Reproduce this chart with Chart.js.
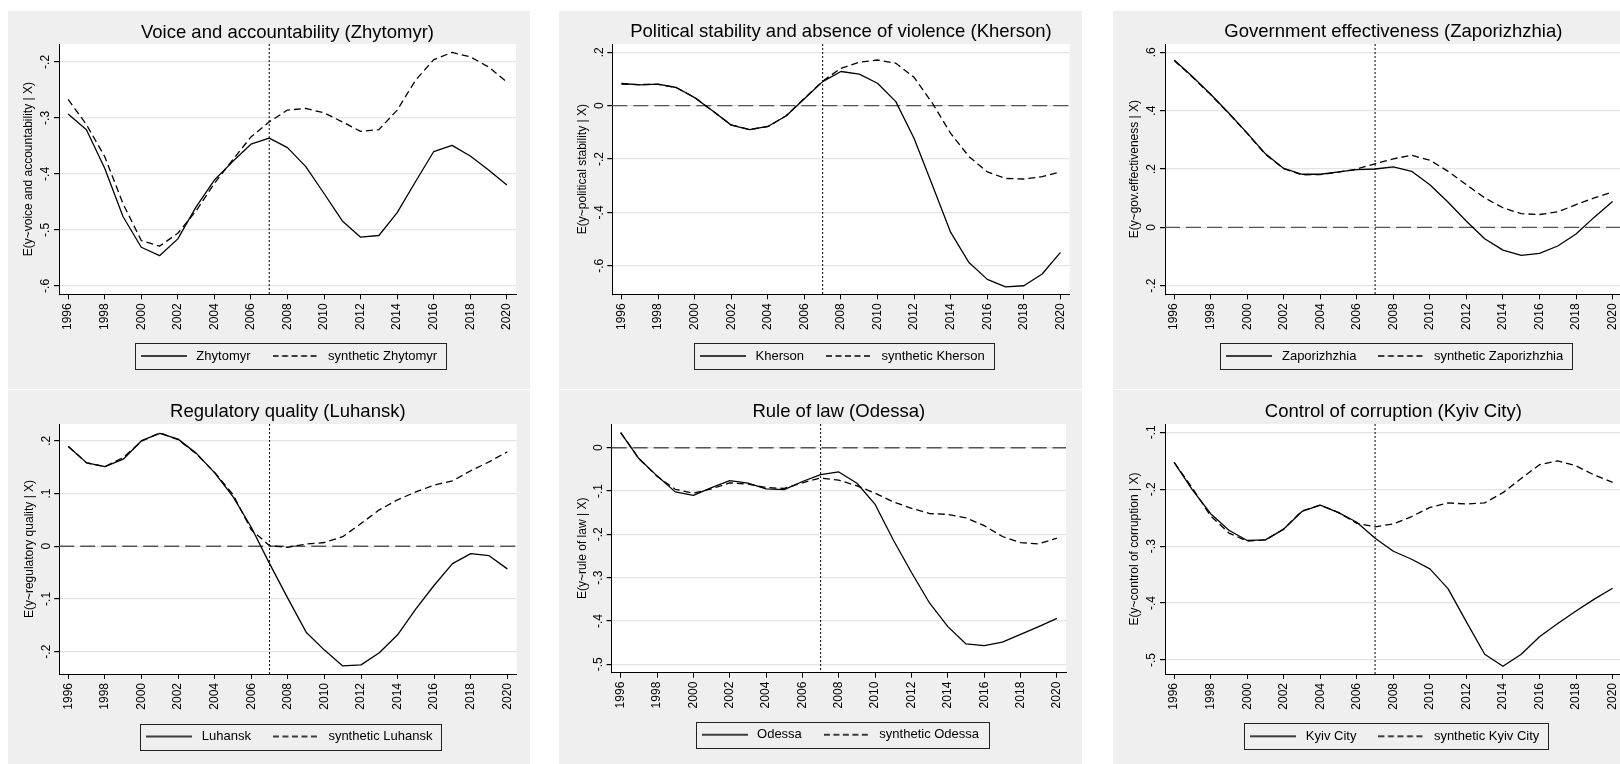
<!DOCTYPE html>
<html>
<head>
<meta charset="utf-8">
<script src="https://cdn.jsdelivr.net/npm/chart.js@4.4.1/dist/chart.umd.min.js"></script>
<style>
  html, body { margin: 0; padding: 0; background: #fff; width: 1620px; height: 764px; overflow: hidden; position: relative; }
  canvas.panel { position: absolute; background: #efefef; }
</style>
</head>
<body>
<canvas class="panel" id="c1" width="522" height="378" style="left:8px;top:11px"></canvas>
<canvas class="panel" id="c2" width="523" height="378" style="left:559px;top:11px"></canvas>
<canvas class="panel" id="c3" width="523" height="378" style="left:1113px;top:11px"></canvas>
<canvas class="panel" id="c4" width="522" height="378" style="left:8px;top:390px"></canvas>
<canvas class="panel" id="c5" width="523" height="378" style="left:559px;top:390px"></canvas>
<canvas class="panel" id="c6" width="523" height="378" style="left:1113px;top:390px"></canvas>
<script>
const years = [1996, 1997, 1998, 1999, 2000, 2001, 2002, 2003, 2004, 2005, 2006, 2007, 2008,
  2009, 2010, 2011, 2012, 2013, 2014, 2015, 2016, 2017, 2018, 2019, 2020];
const yearTicks = [1996, 1998, 2000, 2002, 2004, 2006, 2008, 2010, 2012, 2014, 2016, 2018, 2020];
const treatmentYear = 2007;
const refValue = 0;

// voice and accountability
const zhytomyr = [-0.293, -0.321, -0.390, -0.476, -0.531, -0.546, -0.516, -0.459, -0.411, -0.378, -0.347, -0.336, -0.353,
  -0.387, -0.435, -0.484, -0.513, -0.510, -0.469, -0.414, -0.360, -0.349, -0.368, -0.393, -0.420];
const synthZhytomyr = [-0.267, -0.312, -0.369, -0.453, -0.519, -0.529, -0.506, -0.466, -0.417, -0.375, -0.334, -0.307, -0.286,
  -0.283, -0.291, -0.307, -0.324, -0.321, -0.286, -0.233, -0.196, -0.183, -0.191, -0.209, -0.236];
const voiceTicks = [-0.6, -0.5, -0.4, -0.3, -0.2];

// political stability
const kherson = [0.083, 0.078, 0.081, 0.068, 0.030, -0.020, -0.073, -0.090, -0.078, -0.039, 0.026, 0.090, 0.128,
  0.118, 0.084, 0.015, -0.123, -0.298, -0.475, -0.588, -0.651, -0.679, -0.675, -0.631, -0.550];
const synthKherson = [0.081, 0.079, 0.080, 0.067, 0.031, -0.021, -0.072, -0.089, -0.079, -0.038, 0.027, 0.092, 0.140,
  0.163, 0.171, 0.159, 0.106, 0.009, -0.104, -0.191, -0.248, -0.273, -0.275, -0.266, -0.248];
const stabilityTicks = [-0.6, -0.4, -0.2, 0, 0.2];

// government effectiveness
const zaporizhzhia = [0.574, 0.517, 0.456, 0.391, 0.323, 0.252, 0.202, 0.182, 0.182, 0.190, 0.198, 0.200, 0.207,
  0.192, 0.146, 0.086, 0.021, -0.039, -0.078, -0.096, -0.089, -0.064, -0.023, 0.035, 0.089];
const synthZaporizhzhia = [0.572, 0.515, 0.455, 0.390, 0.322, 0.250, 0.201, 0.180, 0.181, 0.189, 0.200, 0.218, 0.235,
  0.247, 0.230, 0.192, 0.146, 0.101, 0.067, 0.047, 0.044, 0.053, 0.078, 0.101, 0.121];
const effectTicks = [-0.2, 0, 0.2, 0.4, 0.6];

// regulatory quality
const luhansk = [0.189, 0.158, 0.151, 0.165, 0.200, 0.214, 0.203, 0.176, 0.139, 0.094, 0.036, -0.033, -0.099,
  -0.163, -0.197, -0.227, -0.225, -0.202, -0.168, -0.119, -0.074, -0.033, -0.014, -0.018, -0.043];
const synthLuhansk = [0.189, 0.158, 0.151, 0.168, 0.199, 0.215, 0.202, 0.175, 0.140, 0.098, 0.031, 0.001, -0.002,
  0.004, 0.007, 0.018, 0.043, 0.069, 0.088, 0.103, 0.116, 0.124, 0.143, 0.160, 0.179];
const regulatoryTicks = [-0.2, -0.1, 0, 0.1, 0.2];

// rule of law
const odessa = [0.035, -0.025, -0.065, -0.102, -0.110, -0.092, -0.076, -0.082, -0.095, -0.097, -0.078, -0.062, -0.056,
  -0.082, -0.131, -0.213, -0.288, -0.359, -0.413, -0.453, -0.457, -0.449, -0.431, -0.413, -0.394];
const synthOdessa = [0.035, -0.025, -0.066, -0.096, -0.105, -0.095, -0.081, -0.084, -0.092, -0.094, -0.081, -0.070, -0.075,
  -0.088, -0.105, -0.125, -0.140, -0.152, -0.154, -0.162, -0.180, -0.205, -0.219, -0.222, -0.209];
const lawTicks = [-0.5, -0.4, -0.3, -0.2, -0.1, 0];

// control of corruption
const kyivCity = [-0.153, -0.201, -0.243, -0.272, -0.290, -0.289, -0.270, -0.239, -0.228, -0.241, -0.258, -0.286, -0.309,
  -0.323, -0.340, -0.375, -0.433, -0.490, -0.511, -0.490, -0.459, -0.436, -0.414, -0.393, -0.374];
const synthKyivCity = [-0.153, -0.198, -0.247, -0.277, -0.291, -0.289, -0.270, -0.238, -0.228, -0.241, -0.260, -0.266, -0.261,
  -0.248, -0.232, -0.224, -0.226, -0.224, -0.206, -0.181, -0.157, -0.150, -0.159, -0.175, -0.188];
const corruptionTicks = [-0.5, -0.4, -0.3, -0.2, -0.1];

Chart.defaults.font.family = '"Liberation Sans", Arial, sans-serif';
Chart.defaults.color = "#000";

const LEG_PAD = 19;
const SYNTH_DASH = [7, 4];

// stata style: .2, -.4, 0
function stataNum(v) {
  const s = (Math.round(v * 10) / 10).toFixed(1);
  if (s === "0.0" || s === "-0.0") return "0";
  return s.replace(/^(-?)0\./, "$1.");
}

// little line picture used as legend key (pointStyle line ignores dashes)
function lineKey(dash) {
  const c = document.createElement("canvas");
  c.width = 46;
  c.height = 4;
  const g = c.getContext("2d");
  g.strokeStyle = "#000";
  g.lineWidth = 1.3;
  g.setLineDash(dash);
  g.beginPath();
  g.moveTo(0, 2);
  g.lineTo(46, 2);
  g.stroke();
  return c;
}
const solidKey = lineKey([]);
const dashKey = lineKey([6, 3.5]);

const panelDecor = {
  id: "panelDecor",
  beforeDraw(chart) {
    const { ctx, chartArea: a } = chart;
    ctx.save();
    ctx.fillStyle = "#fff";
    ctx.fillRect(a.left, a.top, a.width, a.height);
    ctx.restore();
  },
  beforeDatasetsDraw(chart) {
    const { ctx, chartArea: a } = chart;
    const y = chart.scales.y;
    if (refValue < y.min || refValue > y.max) return;
    const py = y.getPixelForValue(refValue);
    ctx.save();
    ctx.strokeStyle = "#555";
    ctx.lineWidth = 1.4;
    ctx.setLineDash([15, 6]);
    ctx.beginPath();
    ctx.moveTo(a.left, py);
    ctx.lineTo(a.right, py);
    ctx.stroke();
    ctx.restore();
  },
  afterDatasetsDraw(chart) {
    const { ctx, chartArea: a } = chart;
    const px = chart.scales.x.getPixelForValue(treatmentYear);
    ctx.save();
    ctx.strokeStyle = "#000";
    ctx.lineWidth = 1;
    ctx.setLineDash([2, 2]);
    ctx.beginPath();
    ctx.moveTo(px, a.top);
    ctx.lineTo(px, a.bottom);
    ctx.stroke();
    ctx.restore();
  },
  afterDraw(chart) {
    const boxes = chart.legend && chart.legend.legendHitBoxes;
    if (!boxes || !boxes.length) return;
    const ctx = chart.ctx;
    const left = Math.min(...boxes.map((b) => b.left)) - 3;
    const right = Math.max(...boxes.map((b) => b.left + b.width)) + 9;
    const top = boxes[0].top - 6.5;
    const bottom = boxes[0].top + boxes[0].height + 6.5;
    ctx.save();
    ctx.strokeStyle = "#222";
    ctx.lineWidth = 1;
    ctx.strokeRect(Math.round(left) + 0.5, Math.round(top) + 0.5, Math.round(right - left), Math.round(bottom - top));
    ctx.restore();
  },
};

function makeChart(p) {
  const legendTop = p.legendMid - LEG_PAD - 6.5;
  const legendH = 13 + LEG_PAD + 10;
  const pts = (vals) => years.map((x, i) => ({ x, y: vals[i] }));
  new Chart(document.getElementById(p.id), {
    type: "line",
    data: {
      datasets: [
        {
          label: p.unit,
          data: pts(p.actual),
          borderColor: "#000",
          borderWidth: 1.3,
          pointRadius: 0,
          pointStyle: solidKey,
          tension: 0,
          borderJoinStyle: "round",
        },
        {
          label: "synthetic " + p.unit,
          data: pts(p.synth),
          borderColor: "#000",
          borderWidth: 1.3,
          borderDash: SYNTH_DASH,
          pointRadius: 0,
          pointStyle: dashKey,
          tension: 0,
          borderJoinStyle: "round",
        },
      ],
    },
    options: {
      responsive: false,
      animation: false,
      devicePixelRatio: 1,
      layout: {
        padding: { left: 0, right: p.padR, top: 0, bottom: p.h - legendTop - legendH },
      },
      scales: {
        x: {
          type: "linear",
          min: 1995.5,
          max: 2020.5,
          afterBuildTicks: (axis) => {
            axis.ticks = yearTicks.map((v) => ({ value: v }));
          },
          afterFit: (scale) => {
            scale.height = legendTop - p.plotBottom;
          },
          ticks: {
            minRotation: 90,
            maxRotation: 90,
            autoSkip: false,
            padding: 4,
            font: { size: 12 },
            callback: (v) => String(v),
          },
          grid: { drawOnChartArea: false, tickLength: 5, tickColor: "#000", lineWidth: 1 },
          border: { color: "#000", width: 1 },
        },
        y: {
          min: p.yMin,
          max: p.yMax,
          afterBuildTicks: (axis) => {
            axis.ticks = p.yTicks.map((v) => ({ value: v }));
          },
          afterFit: (scale) => {
            scale.width = p.yAxisW;
          },
          ticks: {
            minRotation: 90,
            maxRotation: 90,
            crossAlign: "center",
            padding: 1,
            font: { size: 12 },
            callback: (v) => stataNum(v),
          },
          grid: { color: "#e4e4e4", lineWidth: 1.2, tickLength: 5, tickColor: "#000" },
          border: { color: "#000", width: 1 },
          title: {
            display: true,
            text: p.yTitle,
            font: { size: 12 },
            padding: { top: p.yTitleX - 7.2, bottom: 0 },
          },
        },
      },
      plugins: {
        title: {
          display: true,
          fullSize: false,
          text: p.title,
          font: { size: 18.5, weight: "normal" },
          padding: { top: p.titleMid - 11.1, bottom: p.plotTop - p.titleMid - 11.1 },
        },
        legend: {
          position: "bottom",
          fullSize: false,
          labels: {
            usePointStyle: true,
            pointStyleWidth: 52,
            padding: LEG_PAD,
            font: { size: 13 },
          },
        },
        tooltip: { enabled: false },
      },
    },
    plugins: [panelDecor],
  });
}

const panels = [
  {
    id: "c1", title: "Voice and accountability (Zhytomyr)", yTitle: "E(y~voice and accountability | X)",
    unit: "Zhytomyr", actual: zhytomyr, synth: synthZhytomyr, yTicks: voiceTicks, yMin: -0.615, yMax: -0.168,
    h: 378, plotTop: 33, plotBottom: 283.3, titleMid: 22, legendMid: 345, yAxisW: 51, padR: 14, yTitleX: 21,
  },
  {
    id: "c2", title: "Political stability and absence of violence (Kherson)", yTitle: "E(y~political stability | X)",
    unit: "Kherson", actual: kherson, synth: synthKherson, yTicks: stabilityTicks, yMin: -0.707, yMax: 0.231,
    h: 378, plotTop: 33, plotBottom: 283.3, titleMid: 21, legendMid: 345, yAxisW: 53.3, padR: 12.4, yTitleX: 24,
  },
  {
    id: "c3", title: "Government effectiveness (Zaporizhzhia)", yTitle: "E(y~gov.effectiveness | X)",
    unit: "Zaporizhzhia", actual: zaporizhzhia, synth: synthZaporizhzhia, yTicks: effectTicks, yMin: -0.2295, yMax: 0.6285,
    h: 378, plotTop: 33, plotBottom: 283.3, titleMid: 21, legendMid: 345, yAxisW: 52, padR: 14.3, yTitleX: 22,
  },
  {
    id: "c4", title: "Regulatory quality (Luhansk)", yTitle: "E(y~regulatory quality | X)",
    unit: "Luhansk", actual: luhansk, synth: synthLuhansk, yTicks: regulatoryTicks, yMin: -0.2423, yMax: 0.2317,
    h: 378, plotTop: 34, plotBottom: 284, titleMid: 21.7, legendMid: 346.5, yAxisW: 51.2, padR: 13.5, yTitleX: 21.3,
  },
  {
    id: "c5", title: "Rule of law (Odessa)", yTitle: "E(y~rule of law | X)",
    unit: "Odessa", actual: odessa, synth: synthOdessa, yTicks: lawTicks, yMin: -0.5194, yMax: 0.0547,
    h: 378, plotTop: 34, plotBottom: 282.7, titleMid: 21.7, legendMid: 344.7, yAxisW: 52.6, padR: 16, yTitleX: 24,
  },
  {
    id: "c6", title: "Control of corruption (Kyiv City)", yTitle: "E(y~control of corruption | X)",
    unit: "Kyiv City", actual: kyivCity, synth: synthKyivCity, yTicks: corruptionTicks, yMin: -0.5246, yMax: -0.0854,
    h: 378, plotTop: 34, plotBottom: 284, titleMid: 21.7, legendMid: 346.3, yAxisW: 52, padR: 14.3, yTitleX: 22,
  },
];

panels.forEach(makeChart);
</script>
</body>
</html>
